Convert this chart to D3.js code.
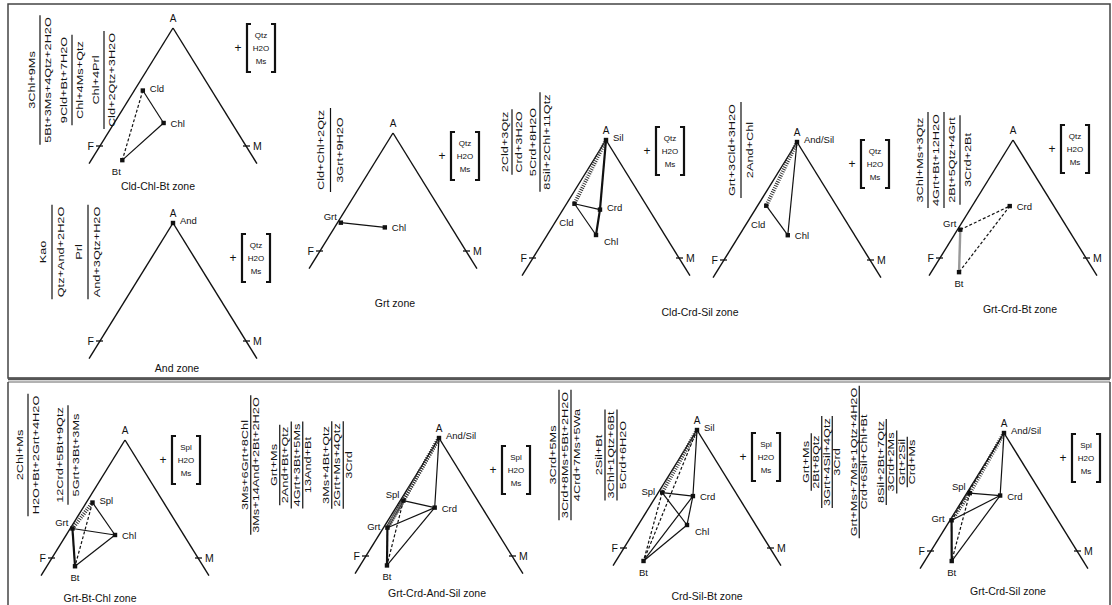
<!DOCTYPE html><meta charset="utf-8"><style>
    body { margin: 0; background: #fff; }
    svg { display: block; }
    text { font-family: "Liberation Sans", Arial, sans-serif; fill: #111; }
</style><svg width="1112" height="605"></svg><script src="https://cdn.jsdelivr.net/npm/d3@7/dist/d3.min.js"></script><script>

    var width = 1112, height = 605;

    // zone names under each AFM diagram (D5 shares the Cld-Crd-Sil label)
    var zones = ["Cld-Chl-Bt zone", "And zone", "Grt zone", "Cld-Crd-Sil zone", "",
        "Grt-Crd-Bt zone", "Grt-Bt-Chl zone", "Grt-Crd-And-Sil zone", "Crd-Sil-Bt zone", "Grt-Crd-Sil zone"];

    // phase compositions: a = A value (1 at apex, 0 on F-M join), r = M/(F+M)
    var phases = [
        [{n: "Cld", a: 0.47, r: 0.11}, {n: "Chl", a: 0.195, r: 0.42}, {n: "Bt", a: -0.12, r: 0.19}],
        [{n: "And", a: 1, r: 0.5}],
        [{n: "Grt", a: 0.24, r: 0.03}, {n: "Chl", a: 0.20, r: 0.43}],
        [{n: "Sil", a: 1, r: 0.5}, {n: "Cld", a: 0.46, r: 0.10}, {n: "Crd", a: 0.41, r: 0.43}, {n: "Chl", a: 0.195, r: 0.415}],
        [{n: "And/Sil", a: 1, r: 0.5}, {n: "Cld", a: 0.46, r: 0.11}, {n: "Chl", a: 0.21, r: 0.42}],
        [{n: "Grt", a: 0.24, r: 0.025}, {n: "Crd", a: 0.44, r: 0.46}, {n: "Bt", a: -0.12, r: 0.17}],
        [{n: "Spl", a: 0.47, r: 0.08}, {n: "Grt", a: 0.25, r: 0.02}, {n: "Chl", a: 0.195, r: 0.415}, {n: "Bt", a: -0.07, r: 0.18}],
        [{n: "And/Sil", a: 1, r: 0.5}, {n: "Spl", a: 0.47, r: 0.04}, {n: "Crd", a: 0.41, r: 0.45}, {n: "Grt", a: 0.24, r: 0.035}, {n: "Bt", a: -0.08, r: 0.17}],
        [{n: "Sil", a: 1, r: 0.5}, {n: "Spl", a: 0.47, r: 0.05}, {n: "Crd", a: 0.44, r: 0.45}, {n: "Chl", a: 0.195, r: 0.415}, {n: "Bt", a: -0.11, r: 0.17}],
        [{n: "And/Sil", a: 1, r: 0.5}, {n: "Spl", a: 0.49, r: 0.04}, {n: "Crd", a: 0.47, r: 0.45}, {n: "Grt", a: 0.26, r: 0.015}, {n: "Bt", a: -0.085, r: 0.17}]
    ];

    // tie lines: [phase, phase, kind]  s solid, t thick, d dashed, h hatched band, g grey
    var ties = [
        [["Cld", "Chl", "s"], ["Chl", "Bt", "s"], ["Cld", "Bt", "d"]],
        [],
        [["Grt", "Chl", "s"]],
        [["Sil", "Cld", "h"], ["Sil", "Crd", "t"], ["Crd", "Chl", "t"], ["Cld", "Crd", "s"], ["Cld", "Chl", "s"]],
        [["And/Sil", "Cld", "h"], ["And/Sil", "Chl", "s"], ["Cld", "Chl", "s"]],
        [["Grt", "Crd", "d"], ["Crd", "Bt", "d"], ["Grt", "Bt", "g"]],
        [["Grt", "Spl", "h"], ["Spl", "Chl", "s"], ["Grt", "Chl", "s"], ["Grt", "Bt", "t"], ["Bt", "Chl", "s"], ["Spl", "Bt", "d"]],
        [["And/Sil", "Spl", "h"], ["And/Sil", "Grt", "h"], ["And/Sil", "Crd", "s"], ["Spl", "Crd", "s"], ["Grt", "Crd", "s"],
            ["Bt", "Crd", "s"], ["Grt", "Bt", "t"], ["Spl", "Bt", "d"], ["Grt", "Spl", "h"]],
        [["Sil", "Spl", "h"], ["Sil", "Crd", "s"], ["Sil", "Bt", "d"], ["Spl", "Crd", "s"], ["Spl", "Chl", "s"],
            ["Crd", "Chl", "s"], ["Spl", "Bt", "d"], ["Crd", "Bt", "s"], ["Chl", "Bt", "s"]],
        [["And/Sil", "Spl", "h"], ["And/Sil", "Grt", "d"], ["And/Sil", "Crd", "s"], ["Spl", "Crd", "s"], ["Grt", "Crd", "s"],
            ["Spl", "Grt", "h"], ["Bt", "Crd", "s"], ["Grt", "Bt", "t"], ["Spl", "Bt", "d"]]
    ];

    // reactions written beside each diagram, one array of stacked terms per fraction
    var reactions = [
        [["3Chl+9Ms", "5Bt+3Ms+4Qtz+2H2O"], ["9Cld+Bt+7H2O", "Chl+4Ms+Qtz"], ["Chl+4Prl", "Cld+2Qtz+3H2O"]],
        [["Kao", "Qtz+And+2H2O"], ["Prl", "And+3Qtz+H2O"]],
        [["Cld+Chl+2Qtz", "3Grt+9H2O"]],
        [["2Cld+3Qtz", "Crd+3H2O"], ["5Crd+8H2O", "8Sil+2Chl+11Qtz"]],
        [["Grt+3Cld+3H2O", "2And+Chl"]],
        [["3Chl+Ms+3Qtz", "4Grt+Bt+12H2O", "2Bt+5Qtz+4Grt", "3Crd+2Bt"]],
        [["2Chl+Ms", "H2O+Bt+2Grt+4H2O"], ["12Crd+5Bt+9Qtz", "5Grt+3Bt+3Ms"]],
        [["3Ms+6Grt+8Chl", "3Ms+14And+2Bt+2H2O"], ["Grt+Ms", "2And+Bt+Qtz", "4Grt+3Bt+5Ms", "13And+Bt"],
            ["3Ms+4Bt+Qtz", "2Grt+Ms+4Qtz", "3Crd"]],
        [["3Crd+5Ms", "3Crd+8Ms+5Bt+2H2O", "4Crd+7Ms+5Wa"], ["2Sil+Bt", "3Chl+1Qtz+6Bt", "5Crd+6H2O"]],
        [["Grt+Ms", "2Bt+8Qtz", "3Grt+4Sil+4Qtz", "3Crd"], ["Grt+Ms+7Ms+1Qtz+4H2O", "Crd+6Sil+Chl+Bt"],
            ["8Sil+2Bt+7Qtz", "3Crd+2Ms", "Grt+2Sil", "Crd+Ms"]]
    ];

    var excessTop = ["Qtz", "H2O", "Ms"];
    var excessBottom = ["Spl", "H2O", "Ms"];

    // label side for each phase point
    var labelSide = [
        {Cld: "ra", Chl: "r", Bt: "bl"},
        {And: "ra"},
        {Grt: "la", Chl: "r"},
        {Sil: "ra", Cld: "bl2", Crd: "ra", Chl: "rb"},
        {"And/Sil": "ra", Cld: "bl2", Chl: "r"},
        {Grt: "la", Crd: "r", Bt: "b"},
        {Spl: "ra", Grt: "la", Chl: "r", Bt: "b"},
        {"And/Sil": "ra", Spl: "la", Crd: "r", Grt: "l", Bt: "b"},
        {Sil: "ra", Spl: "l", Crd: "r", Chl: "rb", Bt: "b"},
        {"And/Sil": "ra", Spl: "la", Crd: "r", Grt: "l", Bt: "b"}
    ];

    // placement of each diagram on the page
    var layout = [
        {ax: 173, ay: 28, rx: 32, ry: 80, step: 16, gap: 0, px: 238, py: 48, zx: 158, zy: 190},
        {ax: 173, ay: 223, rx: 43, ry: 252, step: 18, gap: 0, px: 233, py: 258, zx: 177, zy: 372},
        {ax: 393, ay: 133, rx: 321, ry: 150, step: 19, gap: 0, px: 442, py: 156, zx: 395, zy: 307},
        {ax: 606, ay: 140, rx: 505, ry: 142, step: 14, gap: 0, px: 647, py: 151, zx: 700, zy: 316},
        {ax: 797, ay: 142, rx: 732, ry: 150, step: 18, gap: 0, px: 852, py: 164, zx: 0, zy: 0},
        {ax: 1013, ay: 140, rx: 920, ry: 160, step: 16, gap: 0, px: 1052, py: 149, zx: 1020, zy: 313},
        {ax: 125, ay: 440, rx: 20, ry: 455, step: 16, gap: 8, px: 163, py: 460, zx: 100, zy: 602},
        {ax: 439, ay: 438, rx: 245, ry: 465, step: 11.5, gap: 6, px: 493, py: 470, zx: 437, zy: 597},
        {ax: 697, ay: 430, rx: 553, ry: 455, step: 12, gap: 10, px: 743, py: 457, zx: 707, zy: 600},
        {ax: 1004, ay: 433, rx: 806, ry: 462, step: 10.5, gap: 6, px: 1063, py: 458, zx: 1008, zy: 595}
    ];

    var H = 118, W = 73, ext = 1.15;
    var ink = "#111";

    const svg = d3.select("svg").attr("viewBox", [0, 0, width, height]);

    // frames
    svg.append("rect").attr("x", 8).attr("y", 4).attr("width", 1102).attr("height", 374)
        .attr("fill", "none").attr("stroke", "#444").attr("stroke-width", 1.5);
    svg.append("line").attr("x1", 8).attr("x2", 1110).attr("y1", 379).attr("y2", 379)
        .attr("stroke", "#555").attr("stroke-width", 2.5);
    svg.append("line").attr("x1", 8).attr("x2", 1110).attr("y1", 382).attr("y2", 382)
        .attr("stroke", "#999").attr("stroke-width", 1.5);
    svg.append("line").attr("x1", 8).attr("x2", 8).attr("y1", 382).attr("y2", 605)
        .attr("stroke", "#444").attr("stroke-width", 1.5);
    svg.append("line").attr("x1", 1110).attr("x2", 1110).attr("y1", 382).attr("y2", 605)
        .attr("stroke", "#444").attr("stroke-width", 1.5);

    var tieStyle = {
        s: {w: 1.2, dash: null, c: ink},
        t: {w: 2.2, dash: null, c: ink},
        d: {w: 1.2, dash: "3,2", c: ink},
        h: {w: 4, dash: "1,1.3", c: "#333"},
        g: {w: 2.4, dash: null, c: "#999"}
    };

    layout.forEach(function (L, k) {
        var g = svg.append("g");
        var yA = d3.scaleLinear().domain([1, 0]).range([L.ay, L.ay + H]);
        var xR = d3.scaleLinear().domain([0, 1]).range([-W, W]);
        var pos = (a, r) => [L.ax + (yA(a) - L.ay) / H * xR(r), yA(a)];

        // A-F and A-M sides
        [0, 1].forEach(function (r) {
            var e = pos(1 - ext, r);
            g.append("line").attr("x1", L.ax).attr("y1", L.ay).attr("x2", e[0]).attr("y2", e[1])
                .attr("stroke", ink).attr("stroke-width", 1.4);
            var t = pos(0, r);
            g.append("line").attr("x1", t[0] - 3).attr("x2", t[0] + 4).attr("y1", t[1]).attr("y2", t[1])
                .attr("stroke", ink).attr("stroke-width", 1.3)
                .attr("transform", r ? "" : `translate(-1,0)`);
            g.append("text").attr("x", r ? t[0] + 7 : t[0] - 6).attr("y", t[1] + 4)
                .attr("text-anchor", r ? "start" : "end").attr("font-size", 10.5).text(r ? "M" : "F");
        });
        g.append("text").attr("x", L.ax).attr("y", L.ay - 6).attr("text-anchor", "middle")
            .attr("font-size", 10).text("A");

        var P = {};
        phases[k].forEach(d => P[d.n] = pos(d.a, d.r));

        ties[k].forEach(function (t) {
            var s = tieStyle[t[2]], p = P[t[0]], q = P[t[1]];
            g.append("line").attr("x1", p[0]).attr("y1", p[1]).attr("x2", q[0]).attr("y2", q[1])
                .attr("stroke", s.c).attr("stroke-width", s.w).attr("stroke-dasharray", s.dash);
        });

        phases[k].forEach(function (d) {
            var p = P[d.n];
            g.append("rect").attr("x", p[0] - 2.2).attr("y", p[1] - 2.2).attr("width", 4.4).attr("height", 4.4).attr("fill", ink);
            var side = labelSide[k][d.n] || "r";
            var o = {
                r: [7, 4, "start"], ra: [7, 1, "start"], rb: [8, 10, "start"], l: [-7, 2, "end"],
                la: [-4, -3, "end"], b: [0, 15, "middle"], bl: [-6, 15, "middle"], bl2: [-8, 22, "middle"]
            }[side];
            g.append("text").attr("x", p[0] + o[0]).attr("y", p[1] + o[1]).attr("text-anchor", o[2])
                .attr("font-size", 9.5).text(d.n);
        });

        // reactions (vertical text, fraction bars between stacked terms)
        var x = L.rx;
        reactions[k].forEach(function (lines) {
            var cols = [];
            lines.forEach(function (t, i) {
                var tx = g.append("text")
                    .attr("transform", `translate(${x},${L.ry}) rotate(-90) scale(1.5,1)`)
                    .attr("text-anchor", "middle").attr("dy", "0.35em").attr("font-size", 8.5).text(t);
                cols.push({x: x, len: tx.node().getComputedTextLength() * 1.5});
                if (i < lines.length - 1) x += L.step;
            });
            for (var i = 0; i < cols.length - 1; i++) {
                var len = Math.max(cols[i].len, cols[i + 1].len) + 4;
                var bx = (cols[i].x + cols[i + 1].x) / 2;
                g.append("line").attr("x1", bx).attr("x2", bx).attr("y1", L.ry - len / 2).attr("y2", L.ry + len / 2)
                    .attr("stroke", ink).attr("stroke-width", 1.2);
            }
            x += L.step + L.gap;
        });

        // + [excess phases]
        var ex = k < 6 ? excessTop : excessBottom;
        g.append("text").attr("x", L.px).attr("y", L.py + 4).attr("text-anchor", "middle")
            .attr("font-size", 12).text("+");
        var bl = L.px + 9, br = L.px + 37, bt = L.py - 24, bb = L.py + 24;
        g.append("path").attr("d", `M${bl + 4},${bt}H${bl}V${bb}H${bl + 4}M${br - 4},${bt}H${br}V${bb}H${br - 4}`)
            .attr("fill", "none").attr("stroke", ink).attr("stroke-width", 2.2);
        ex.forEach(function (t, i) {
            g.append("text").attr("x", (bl + br) / 2).attr("y", L.py + (i - 1) * 13 + 3)
                .attr("text-anchor", "middle").attr("font-size", 8).text(t);
        });

        if (zones[k]) {
            g.append("text").attr("x", L.zx).attr("y", L.zy).attr("text-anchor", "middle")
                .attr("font-size", 10.5).text(zones[k]);
        }
    });

</script>
